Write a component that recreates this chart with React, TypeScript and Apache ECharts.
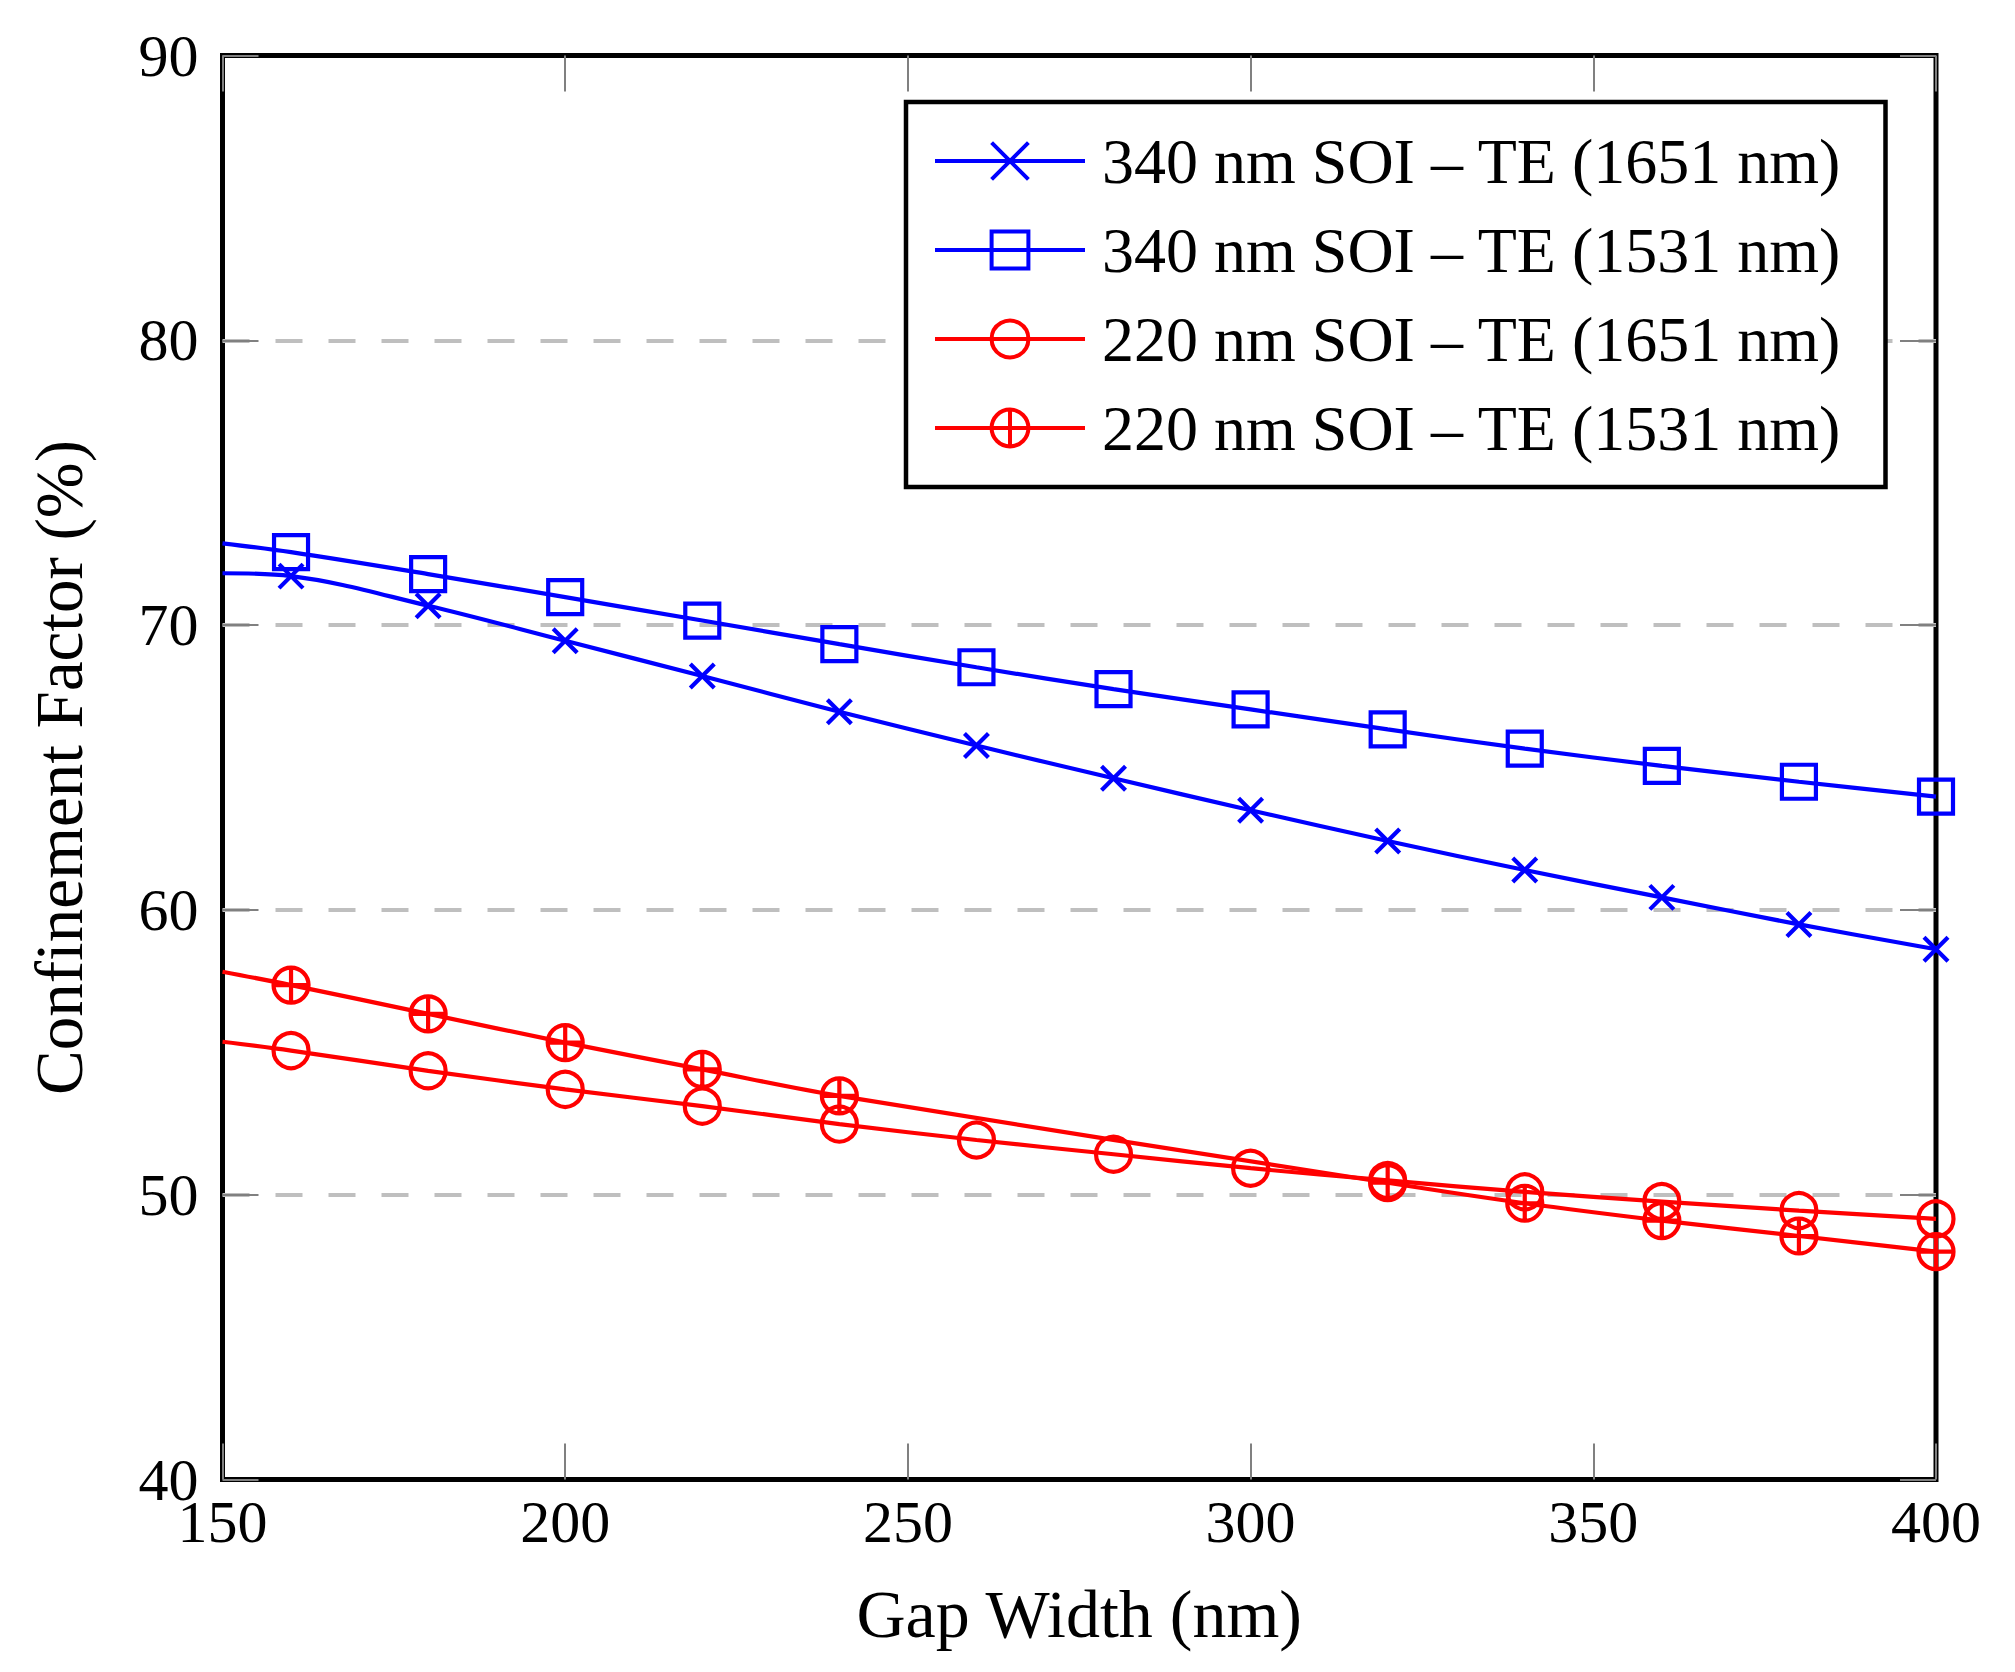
import React, { useEffect, useRef } from "react";
import * as echarts from "echarts";

// ---- data ----
const gapWidths = [150, 160, 180, 200, 220, 240, 260, 280, 300, 320, 340, 360, 380, 400];
const soi340TE1651 = [71.82, 71.72, 70.68, 69.45, 68.21, 66.96, 65.77, 64.62, 63.5, 62.42, 61.4, 60.44, 59.49, 58.62];
const soi340TE1531 = [72.87, 72.56, 71.79, 70.98, 70.16, 69.33, 68.52, 67.75, 67.04, 66.34, 65.66, 65.06, 64.5, 63.98];
const soi220TE1651 = [55.37, 55.06, 54.35, 53.7, 53.11, 52.48, 51.92, 51.42, 50.93, 50.5, 50.1, 49.76, 49.44, 49.15];
const gapWidths220TE1531 = [150, 160, 180, 200, 220, 240, 320, 340, 360, 380, 400];
const soi220TE1531 = [57.83, 57.36, 56.35, 55.34, 54.4, 53.47, 50.42, 49.7, 49.09, 48.55, 48.0];

const seriesNames = [
  "340 nm SOI – TE (1651 nm)",
  "340 nm SOI – TE (1531 nm)",
  "220 nm SOI – TE (1651 nm)",
  "220 nm SOI – TE (1531 nm)",
];
const firstMarkedGap = 160;

const xTicks = { min: 150, max: 400, interval: 50 };
const yTicks = { min: 40, max: 90, interval: 10 };

const BLUE = "#0000ff";
const RED = "#ff0000";
const FONT = "'Liberation Serif', 'DejaVu Serif', serif";

const SYM_CROSS = "path://M0,0L10,10M10,0L0,10";
const SYM_OPLUS = "path://M0,5A5,5,0,1,1,10,5A5,5,0,1,1,0,5ZM5,0L5,10M0,5L10,5";

function toData(xs: number[], ys: number[]) {
  return xs.map((x, i) =>
    x < firstMarkedGap ? { value: [x, ys[i]], symbol: "none" } : { value: [x, ys[i]] }
  );
}

function makeSeries(name: string, xs: number[], ys: number[], color: string, symbol: string, size: number) {
  return {
    name,
    type: "line",
    data: toData(xs, ys),
    smooth: 0.35,
    symbol,
    symbolSize: size,
    showAllSymbol: true,
    clip: false,
    lineStyle: { color, width: 4.2 },
    itemStyle: { color: "rgba(0,0,0,0)", borderColor: color, borderWidth: 4.2 },
    emphasis: { disabled: true },
    z: 3,
  };
}

export default function App() {
  const ref = useRef<HTMLDivElement>(null);

  useEffect(() => {
    if (!ref.current) return;
    const chart = echarts.init(ref.current, undefined, { renderer: "svg" });
    const tickStyle = { show: true, inside: true, length: 36, lineStyle: { color: "#808080", width: 2 } };
    const option = {
      animation: false,
      backgroundColor: "#ffffff",
      grid: {
        left: 222.5,
        right: 79,
        top: 55.5,
        bottom: 192.5,
        show: true,
        borderColor: "#000000",
        borderWidth: 5,
        backgroundColor: "rgba(0,0,0,0)",
        containLabel: false,
      },
      legend: {
        orient: "vertical",
        left: 906,
        top: 102,
        selectedMode: false,
        backgroundColor: "#ffffff",
        borderColor: "#000000",
        borderWidth: 4.5,
        borderRadius: 0,
        padding: [27, 44, 27, 27],
        itemWidth: 150,
        itemHeight: 46,
        itemGap: 25,
        itemStyle: { borderWidth: 4 },
        lineStyle: { width: 4 },
        textStyle: {
          fontFamily: FONT,
          fontSize: 64,
          lineHeight: 64,
          color: "#000000",
          padding: [0, 0, 0, 12],
        },
        data: seriesNames,
        z: 10,
      },
      xAxis: [
        {
          type: "value",
          position: "bottom",
          min: xTicks.min,
          max: xTicks.max,
          interval: xTicks.interval,
          axisLine: { show: false },
          axisTick: tickStyle,
          splitLine: { show: false },
          axisLabel: { fontFamily: FONT, fontSize: 60, lineHeight: 40, color: "#000000", margin: 22 },
          name: "Gap Width (nm)",
          nameLocation: "middle",
          nameGap: 100,
          nameTextStyle: { fontFamily: FONT, fontSize: 68, color: "#000000" },
        },
        {
          type: "value",
          position: "top",
          min: xTicks.min,
          max: xTicks.max,
          interval: xTicks.interval,
          axisLine: { show: false },
          axisTick: tickStyle,
          splitLine: { show: false },
          axisLabel: { show: false },
        },
      ],
      yAxis: [
        {
          type: "value",
          position: "left",
          min: yTicks.min,
          max: yTicks.max,
          interval: yTicks.interval,
          axisLine: { show: false },
          axisTick: tickStyle,
          splitLine: {
            show: true,
            showMinLine: false,
            showMaxLine: false,
            lineStyle: { color: "#bfbfbf", width: 4, type: [27, 26] },
          },
          axisLabel: { fontFamily: FONT, fontSize: 60, lineHeight: 40, color: "#000000", margin: 24 },
          name: "Confinement Factor (%)",
          nameLocation: "middle",
          nameGap: 130,
          nameRotate: 90,
          nameTextStyle: { fontFamily: FONT, fontSize: 67, color: "#000000" },
        },
        {
          type: "value",
          position: "right",
          min: yTicks.min,
          max: yTicks.max,
          interval: yTicks.interval,
          axisLine: { show: false },
          axisTick: tickStyle,
          splitLine: { show: false },
          axisLabel: { show: false },
        },
      ],
      series: [
        makeSeries(seriesNames[0], gapWidths, soi340TE1651, BLUE, SYM_CROSS, 24),
        makeSeries(seriesNames[1], gapWidths, soi340TE1531, BLUE, "rect", 34),
        makeSeries(seriesNames[2], gapWidths, soi220TE1651, RED, "circle", 35),
        makeSeries(seriesNames[3], gapWidths220TE1531, soi220TE1531, RED, SYM_OPLUS, 35),
      ],
    };
    chart.setOption(option as any);
    return () => chart.dispose();
  }, []);

  return (
    <div
      ref={ref}
      style={{ position: "absolute", left: 0, top: 0, width: "2015px", height: "1672px", background: "#ffffff" }}
    />
  );
}
